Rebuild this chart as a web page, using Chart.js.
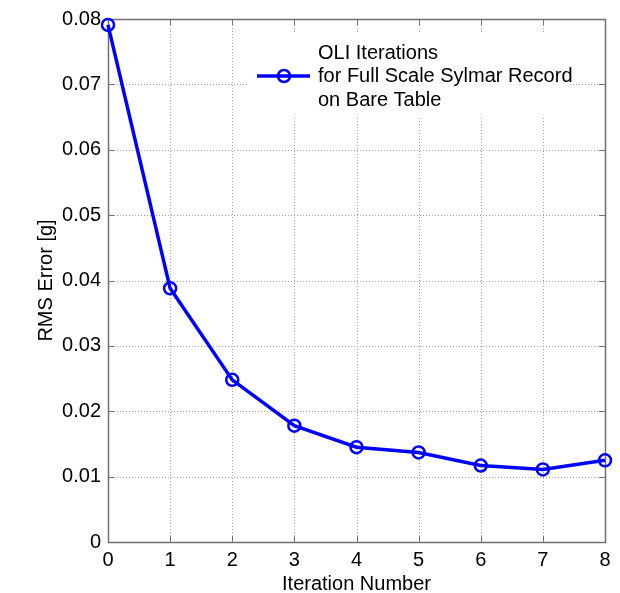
<!DOCTYPE html>
<html>
<head>
<meta charset="utf-8">
<script src="https://cdn.jsdelivr.net/npm/chart.js@4.4.1/dist/chart.umd.min.js"></script>
<style>
  html, body { margin: 0; padding: 0; background: #ffffff; }
  #wrap { width: 620px; height: 593px; }
</style>
</head>
<body>
<div id="wrap"><canvas id="c" width="620" height="593"></canvas></div>
<script>
// ---- data ----
const iterations = [0, 1, 2, 3, 4, 5, 6, 7, 8];
const rmsError = [0.0791, 0.0388, 0.0248, 0.0178, 0.0145, 0.0137, 0.0117, 0.0111, 0.0125];
const legendLines = ['OLI Iterations', 'for Full Scale Sylmar Record', 'on Bare Table'];
const xTitle = 'Iteration Number';
const yTitle = 'RMS Error [g]';
const xMin = 0, xMax = 8, xStep = 1;
const yMin = 0, yMax = 0.08, yStep = 0.01;

const FONT = '"Liberation Sans", Arial, Helvetica, sans-serif';
const BLUE = '#0000ff';

const frame = {
  id: 'frame',
  beforeDatasetsDraw(chart) {
    const { ctx, chartArea: a, scales } = chart;
    ctx.save();
    ctx.strokeStyle = '#a0a0a0';
    ctx.lineWidth = 1;
    ctx.setLineDash([1, 2]);
    scales.x.ticks.forEach(t => {
      const x = Math.round(scales.x.getPixelForValue(t.value)) + 0.5;
      ctx.beginPath(); ctx.moveTo(x, a.top); ctx.lineTo(x, a.bottom); ctx.stroke();
    });
    scales.y.ticks.forEach(t => {
      const y = Math.round(scales.y.getPixelForValue(t.value)) + 0.5;
      ctx.beginPath(); ctx.moveTo(a.left, y); ctx.lineTo(a.right, y); ctx.stroke();
    });
    ctx.setLineDash([]);
    // tick marks (inward, all four sides)
    ctx.strokeStyle = '#707070';
    const tl = 6;
    scales.x.ticks.forEach(t => {
      const x = Math.round(scales.x.getPixelForValue(t.value)) + 0.5;
      ctx.beginPath(); ctx.moveTo(x, a.bottom); ctx.lineTo(x, a.bottom - tl); ctx.stroke();
      ctx.beginPath(); ctx.moveTo(x, a.top); ctx.lineTo(x, a.top + tl); ctx.stroke();
    });
    scales.y.ticks.forEach(t => {
      const y = Math.round(scales.y.getPixelForValue(t.value)) + 0.5;
      ctx.beginPath(); ctx.moveTo(a.left, y); ctx.lineTo(a.left + tl, y); ctx.stroke();
      ctx.beginPath(); ctx.moveTo(a.right, y); ctx.lineTo(a.right - tl, y); ctx.stroke();
    });
    // legend background (covers grid)
    ctx.fillStyle = '#ffffff';
    ctx.fillRect(247, 33, 322, 84);
    // axes box
    ctx.strokeStyle = '#707070';
    ctx.lineWidth = 1.5;
    ctx.strokeRect(Math.round(a.left) + 0.5, Math.round(a.top) + 0.5,
                   Math.round(a.right - a.left), Math.round(a.bottom - a.top));
    ctx.restore();
  },
  afterDraw(chart) {
    const { ctx } = chart;
    const ds = chart.data.datasets[0];
    ctx.save();
    // legend sample
    const ly = 76;
    ctx.strokeStyle = ds.borderColor;
    ctx.lineWidth = ds.borderWidth;
    ctx.beginPath(); ctx.moveTo(257, ly); ctx.lineTo(310, ly); ctx.stroke();
    ctx.lineWidth = ds.pointBorderWidth;
    ctx.beginPath(); ctx.arc(284, ly, ds.pointRadius, 0, Math.PI * 2); ctx.stroke();
    // legend text
    ctx.fillStyle = '#000000';
    ctx.font = '20px ' + FONT;
    ctx.textBaseline = 'middle';
    ctx.textAlign = 'left';
    const lines = ds.label;
    lines.forEach((s, i) => ctx.fillText(s, 318, 53 + i * 23.5));
    ctx.restore();
  }
};

new Chart(document.getElementById('c'), {
  type: 'line',
  data: {
    labels: iterations,
    datasets: [{
      label: legendLines,
      data: iterations.map((x, i) => ({ x: x, y: rmsError[i] })),
      borderColor: BLUE,
      borderWidth: 3.5,
      pointRadius: 6,
      pointBorderWidth: 2.5,
      pointBorderColor: BLUE,
      pointBackgroundColor: 'rgba(0,0,0,0)',
      pointStyle: 'circle',
      tension: 0,
      fill: false,
      clip: false
    }]
  },
  options: {
    responsive: false,
    animation: false,
    devicePixelRatio: 1,
    layout: { padding: { top: 17, right: 15, left: 0, bottom: 0 } },
    plugins: {
      legend: { display: false },
      tooltip: { enabled: false }
    },
    scales: {
      x: {
        type: 'linear',
        min: xMin, max: xMax,
        grid: { display: false, drawTicks: false },
        border: { display: false },
        ticks: {
          stepSize: xStep,
          color: '#000000',
          padding: 6,
          maxRotation: 0,
          font: { family: FONT, size: 20 }
        },
        title: {
          display: true,
          text: xTitle,
          color: '#000000',
          padding: { top: 0, bottom: 0 },
          font: { family: FONT, size: 20, lineHeight: 0.9 }
        },
        afterFit(scale) { scale.height = 51; }
      },
      y: {
        type: 'linear',
        min: yMin, max: yMax,
        grid: { display: false, drawTicks: false },
        border: { display: false },
        ticks: {
          stepSize: yStep,
          color: '#000000',
          padding: 7,
          font: { family: FONT, size: 20 },
          callback: v => (Math.abs(v) < 1e-9 ? '0' : v.toFixed(2))
        },
        title: {
          display: true,
          text: yTitle,
          color: '#000000',
          padding: { top: 34, bottom: 0 },
          font: { family: FONT, size: 20 }
        },
        afterFit(scale) { scale.width = 108; }
      }
    }
  },
  plugins: [frame]
});
</script>
</body>
</html>
